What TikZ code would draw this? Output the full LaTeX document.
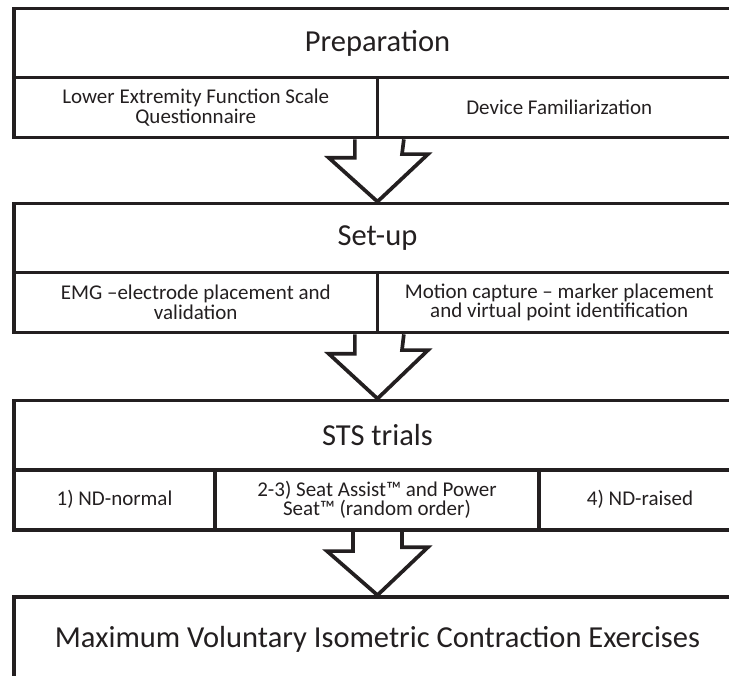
\documentclass[tikz,border=0pt]{standalone}
\usepackage{fontspec}
\setmainfont{Carlito}
\definecolor{ink}{HTML}{231F20}
\tikzset{
  cell/.style={draw=ink, line width=3.7pt, rectangle, inner sep=0pt, align=center, text=ink},
  head/.style={cell, minimum width=727pt, minimum height=69pt, font=\fontsize{30.5}{36}\selectfont},
  sub/.style={cell, minimum height=60pt, font=\fontsize{21}{19.5}\selectfont},
  bigarrow/.style={draw=ink, line width=3.7pt, line join=miter},
}
\begin{document}
\begin{tikzpicture}[x=1pt,y=-1pt]
\useasboundingbox (0,0) rectangle (729,676);
\clip (0,0) rectangle (729,676);

% Box 1
\node[head] (prep) at (377.5,43) {Preparation};
\node[sub, minimum width=363.5pt] (lefs) at (195.75,107.5) {Lower Extremity Function Scale\\Questionnaire};
\node[sub, minimum width=363.5pt] (dev) at (559.25,107.5) {Device Familiarization};

% Box 2
\node[head] (setup) at (377.5,238) {Set-up};
\node[sub, minimum width=363.5pt] (emg) at (195.75,302.5) {EMG –electrode placement and\\validation};
\node[sub, minimum width=363.5pt] (mocap) at (559.25,302.5) {Motion capture – marker placement\\and virtual point identification};

% Box 3
\node[head] (sts) at (377.5,435) {STS trials};
\node[sub, minimum width=201pt] (nd1) at (114.5,499.75) {1) ND-normal};
\node[sub, minimum width=324pt] (sa) at (377,499.75) {2-3) Seat Assist™ and Power\\Seat™ (random order)};
\node[sub, minimum width=202pt] (nd4) at (640,499.75) {4) ND-raised};

% Box 4
\node[head, minimum height=84pt] (mvic) at (377.5,639) {Maximum Voluntary Isometric Contraction Exercises};

% Arrows
\draw[bigarrow] ([xshift=-24.5pt]lefs.south east) -- ++(0,18.5) -- ++(-26,0) -- (setup.north) -- ++(50.5,-47.5) -- ++(-26,0) -- ([xshift=24.5pt]lefs.south east);
\draw[bigarrow] ([xshift=-24.5pt]emg.south east) -- ++(0,19.5) -- ++(-26,0) -- (sts.north) -- ++(50.5,-48.5) -- ++(-26,0) -- ([xshift=24.5pt]emg.south east);
\draw[bigarrow] ([xshift=-24pt]sa.south) -- ++(0,19.5) -- ++(-26,0) -- (mvic.north) -- ++(50.5,-48) -- ++(-26,0) -- ([xshift=25pt]sa.south);
\end{tikzpicture}
\end{document}
